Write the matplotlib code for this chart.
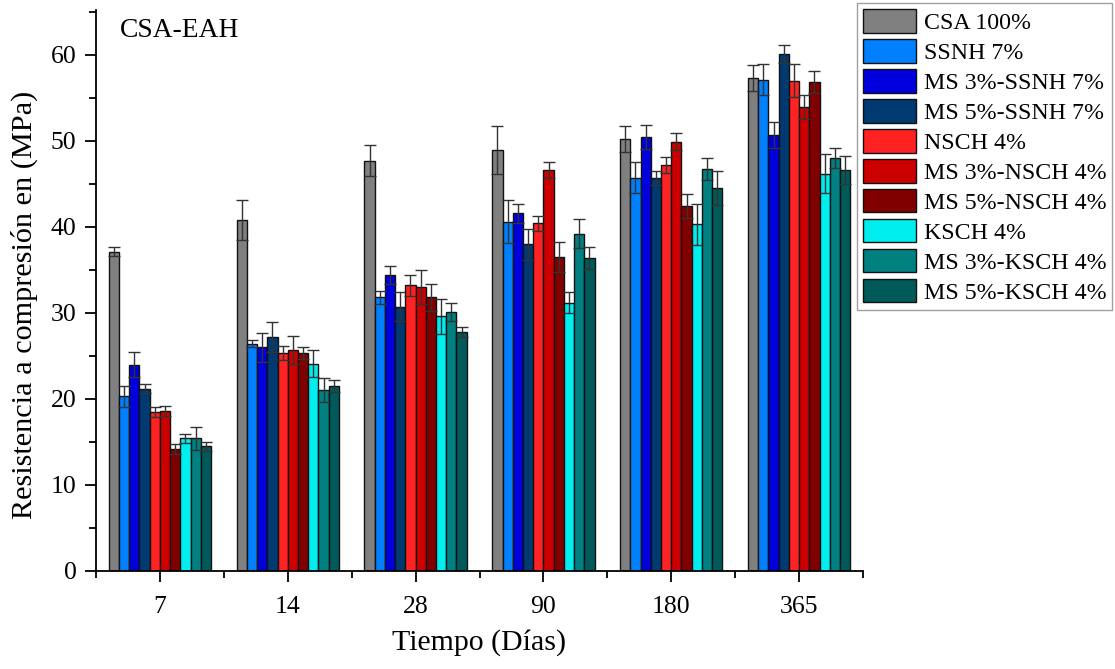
import numpy as np
import matplotlib
matplotlib.use("Agg")
import matplotlib.pyplot as plt
from matplotlib.ticker import MultipleLocator, FixedLocator

plt.rcParams['font.family'] = ['Liberation Serif', 'DejaVu Serif']

days = ["7", "14", "28", "90", "180", "365"]

series_names = [
    "CSA 100%", "SSNH 7%", "MS 3%-SSNH 7%", "MS 5%-SSNH 7%",
    "NSCH 4%", "MS 3%-NSCH 4%", "MS 5%-NSCH 4%",
    "KSCH 4%", "MS 3%-KSCH 4%", "MS 5%-KSCH 4%",
]

# Mean compressive strength (MPa) per age, one list per mix
csa_100      = [37.1, 40.8, 47.7, 48.9, 50.2, 57.3]
ssnh_7       = [20.3, 26.4, 31.8, 40.6, 45.7, 57.1]
ms3_ssnh_7   = [24.0, 26.0, 34.4, 41.6, 50.4, 50.7]
ms5_ssnh_7   = [21.2, 27.2, 30.7, 38.0, 45.7, 60.1]
nsch_4       = [18.5, 25.3, 33.2, 40.4, 47.2, 57.0]
ms3_nsch_4   = [18.6, 25.7, 33.0, 46.6, 49.9, 53.9]
ms5_nsch_4   = [14.2, 25.3, 31.8, 36.5, 42.4, 56.8]
ksch_4       = [15.4, 24.1, 29.6, 31.2, 40.3, 46.2]
ms3_ksch_4   = [15.4, 21.0, 30.1, 39.2, 46.7, 48.0]
ms5_ksch_4   = [14.5, 21.5, 27.8, 36.4, 44.5, 46.6]

# Standard deviations (MPa)
csa_100_sd    = [0.5, 2.3, 1.8, 2.8, 1.5, 1.5]
ssnh_7_sd     = [1.2, 0.4, 0.8, 2.5, 1.8, 1.8]
ms3_ssnh_7_sd = [1.4, 1.7, 1.1, 1.1, 1.4, 1.5]
ms5_ssnh_7_sd = [0.5, 1.7, 1.7, 1.8, 0.8, 1.0]
nsch_4_sd     = [0.6, 0.8, 1.2, 0.9, 0.9, 1.9]
ms3_nsch_4_sd = [0.6, 1.6, 2.0, 0.9, 1.0, 1.4]
ms5_nsch_4_sd = [0.6, 0.7, 1.6, 1.7, 1.4, 1.3]
ksch_4_sd     = [0.5, 1.6, 2.0, 1.2, 2.4, 2.3]
ms3_ksch_4_sd = [1.3, 1.4, 1.0, 1.7, 1.3, 1.2]
ms5_ksch_4_sd = [0.5, 0.7, 0.6, 1.3, 2.0, 1.6]

means = [csa_100, ssnh_7, ms3_ssnh_7, ms5_ssnh_7, nsch_4, ms3_nsch_4,
         ms5_nsch_4, ksch_4, ms3_ksch_4, ms5_ksch_4]
sds = [csa_100_sd, ssnh_7_sd, ms3_ssnh_7_sd, ms5_ssnh_7_sd, nsch_4_sd,
       ms3_nsch_4_sd, ms5_nsch_4_sd, ksch_4_sd, ms3_ksch_4_sd, ms5_ksch_4_sd]

colors = ["#808080", "#0080FF", "#0000DD", "#003A70", "#FF2222",
          "#CC0000", "#800000", "#00EEEE", "#008080", "#005A5A"]

fig = plt.figure(figsize=(11.15, 6.69), dpi=100)
ax = fig.add_axes([0.0861, 0.1465, 0.6879, 0.8385])

x = np.arange(len(days))
n = len(series_names)
group_w = 0.80
bw = group_w / n

handles = []
for i in range(n):
    pos = x - group_w / 2 + bw * (i + 0.5)
    b = ax.bar(pos, means[i], width=bw, color=colors[i], edgecolor="#111111",
               linewidth=1.0, label=series_names[i], zorder=2)
    ax.errorbar(pos, means[i], yerr=sds[i], fmt="none", ecolor="#333333",
                elinewidth=1.0, capsize=4, capthick=1.0, zorder=3)
    handles.append(b)

ax.set_xlim(-0.5, 5.5)
ax.set_ylim(0, 65.2)

for side in ("top", "right"):
    ax.spines[side].set_visible(False)
for side in ("left", "bottom"):
    ax.spines[side].set_linewidth(1.3)

ax.set_xticks(x)
ax.set_xticklabels(days)
ax.xaxis.set_minor_locator(FixedLocator(np.arange(-0.5, 6.0, 1.0)))
ax.yaxis.set_major_locator(MultipleLocator(10))
ax.yaxis.set_minor_locator(MultipleLocator(5))
ax.tick_params(axis="both", which="major", direction="out", length=8,
               width=1.3, labelsize=18.5, pad=6)
ax.tick_params(axis="both", which="minor", direction="out", length=5,
               width=1.3)
ax.tick_params(axis="x", which="major", pad=10)

ax.set_ylabel("Resistencia a compresión en (MPa)", fontsize=21.8)
ax.yaxis.set_label_coords(-0.075, 0.474)
ax.set_xlabel("Tiempo (Días)", fontsize=21.5, labelpad=8)

ax.text(0.031, 0.985, "CSA-EAH", transform=ax.transAxes, fontsize=19.8,
        va="top", ha="left")

leg = fig.legend(handles=handles, labels=series_names, loc="upper left",
                 bbox_to_anchor=(857 / 1115, 1 - 3 / 669), fontsize=17.2,
                 frameon=True, fancybox=False, edgecolor="#888888",
                 handlelength=2.2, handleheight=1.15, handletextpad=0.35,
                 labelspacing=0.21, borderpad=0.25, borderaxespad=0.0)
leg.get_frame().set_linewidth(1.0)

fig.savefig("out.png", dpi=100)
